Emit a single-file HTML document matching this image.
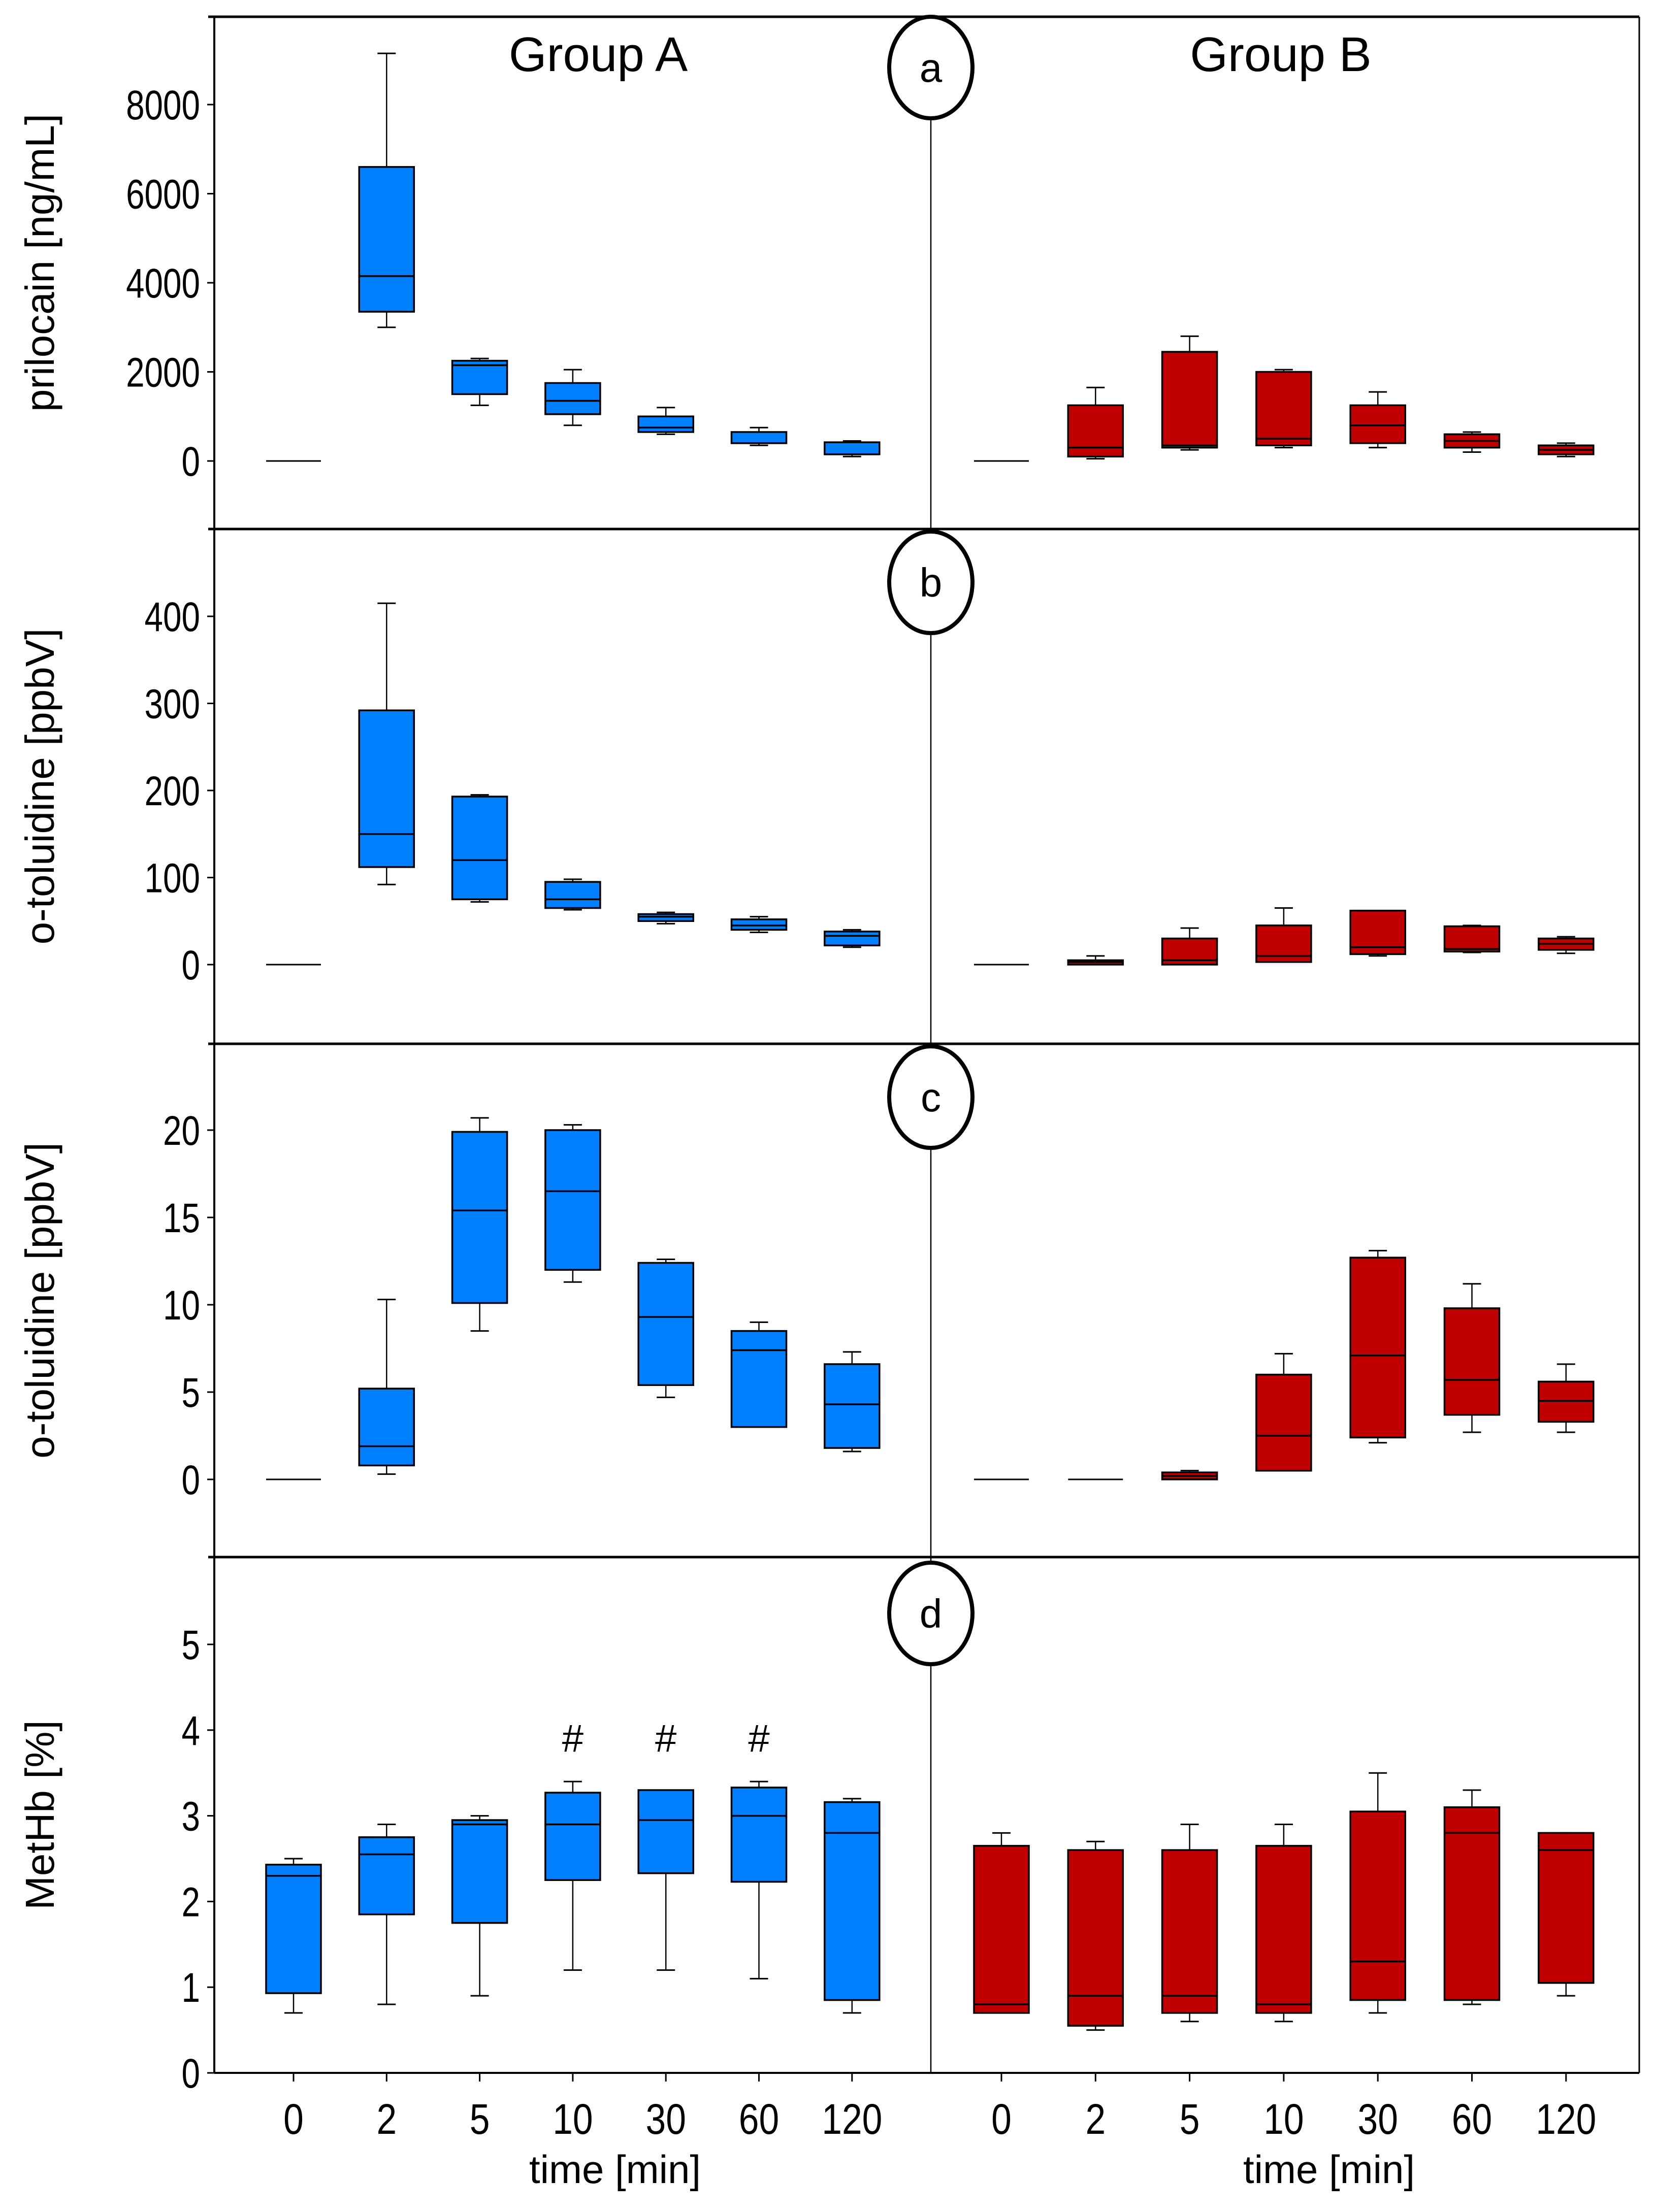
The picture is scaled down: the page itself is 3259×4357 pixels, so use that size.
<!DOCTYPE html>
<html><head><meta charset="utf-8"><style>
html,body{margin:0;padding:0;background:#fff;}
svg{display:block;font-family:"Liberation Sans",sans-serif;}
</style></head><body>
<svg id="chart" width="3259" height="4357" viewBox="0 0 3259 4357" xmlns="http://www.w3.org/2000/svg"></svg>
<script>
const categories = ["0","2","5","10","30","60","120"];
// each box: [whiskerLow, q1, median, q3, whiskerHigh]
const aGroupA = [[0,0,0,0,0],[3000,3350,4150,6600,9150],[1250,1500,2150,2250,2300],[800,1050,1350,1750,2050],[600,650,750,1000,1200],[350,400,400,650,750],[100,150,150,420,450]];
const aGroupB = [[0,0,0,0,0],[50,100,300,1250,1650],[250,300,350,2450,2800],[300,350,500,2000,2050],[300,400,800,1250,1550],[200,300,450,600,650],[100,150,250,350,400]];
const bGroupA = [[0,0,0,0,0],[92,112,150,292,415],[72,75,120,193,195],[63,65,75,95,98],[47,50,55,58,60],[37,40,45,52,55],[20,22,33,38,40]];
const bGroupB = [[0,0,0,0,0],[0,0,3,5,10],[0,0,5,30,42],[3,3,10,45,65],[10,12,20,62,62],[14,15,18,44,45],[13,17,24,30,32]];
const cGroupA = [[0,0,0,0,0],[0.3,0.8,1.9,5.2,10.3],[8.5,10.1,15.4,19.9,20.7],[11.3,12,16.5,20,20.3],[4.7,5.4,9.3,12.4,12.6],[3,3,7.4,8.5,9],[1.6,1.8,4.3,6.6,7.3]];
const cGroupB = [[0,0,0,0,0],[0,0,0,0,0],[0,0,0.2,0.4,0.5],[0.5,0.5,2.5,6,7.2],[2.1,2.4,7.1,12.7,13.1],[2.7,3.7,5.7,9.8,11.2],[2.7,3.3,4.5,5.6,6.6]];
const dGroupA = [[0.7,0.93,2.3,2.43,2.5],[0.8,1.85,2.55,2.75,2.9],[0.9,1.75,2.9,2.95,3.0],[1.2,2.25,2.9,3.27,3.4],[1.2,2.33,2.95,3.3,3.3],[1.1,2.23,3.0,3.33,3.4],[0.7,0.85,2.8,3.16,3.2]];
const dGroupB = [[0.7,0.7,0.8,2.65,2.8],[0.5,0.55,0.9,2.6,2.7],[0.6,0.7,0.9,2.6,2.9],[0.6,0.7,0.8,2.65,2.9],[0.7,0.85,1.3,3.05,3.5],[0.8,0.85,2.8,3.1,3.3],[0.9,1.05,2.6,2.8,2.8]];
const aTicks = [0,2000,4000,6000,8000];
const bTicks = [0,100,200,300,400];
const cTicks = [0,5,10,15,20];
const dTicks = [0,1,2,3,4,5];
const dSignificant = ["10","30","60"];

const svg = document.getElementById('chart');
const NS = "http://www.w3.org/2000/svg";
function mk(tag, attrs, parent){ const e=document.createElementNS(NS,tag); for(const k in attrs) e.setAttribute(k,attrs[k]); (parent||svg).appendChild(e); return e; }

const L=422, R=3228, MID=1833;
const xA0=578, stepA=183.3, xB0=1972, stepB=185.3, BW=108;
function xA(i){return xA0+i*stepA;}
function xB(i){return xB0+i*stepB;}

const panels = [
 {id:'a', top:33, bottom:1042, y0:908, per:175.5/2000, ticks:aTicks, A:aGroupA, B:aGroupB, title:'prilocain [ng/mL]', cy:133},
 {id:'b', top:1042, bottom:2056, y0:1900, per:171.5/100, ticks:bTicks, A:bGroupA, B:bGroupB, title:'o-toluidine [ppbV]', cy:1147},
 {id:'c', top:2056, bottom:3067, y0:2914, per:172/5, ticks:cTicks, A:cGroupA, B:cGroupB, title:'o-toluidine [ppbV]', cy:2161},
 {id:'d', top:3067, bottom:4083, y0:4083, per:168.8, ticks:dTicks, A:dGroupA, B:dGroupB, title:'MetHb [%]', cy:3178}
];

function drawBox(g, x, v, ys, color, name){
  const [lo,q1,md,q3,hi]=v.map(ys);
  const bg=mk('g',{},g);
  
  
  if(Math.abs(q3-q1)<1 && Math.abs(hi-lo)<1){
    mk('line',{x1:x-BW/2,x2:x+BW/2,y1:md,y2:md,stroke:'#000','stroke-width':3},bg); return;
  }
  mk('line',{x1:x,x2:x,y1:hi,y2:q3,stroke:'#000','stroke-width':2.5},bg);
  mk('line',{x1:x,x2:x,y1:q1,y2:lo,stroke:'#000','stroke-width':2.5},bg);
  mk('line',{x1:x-18,x2:x+18,y1:hi,y2:hi,stroke:'#000','stroke-width':3},bg);
  mk('line',{x1:x-18,x2:x+18,y1:lo,y2:lo,stroke:'#000','stroke-width':3},bg);
  mk('rect',{x:x-BW/2,y:q3,width:BW,height:Math.max(q1-q3,2),fill:color,stroke:'#000','stroke-width':3.5},bg);
  mk('line',{x1:x-BW/2,x2:x+BW/2,y1:md,y2:md,stroke:'#000','stroke-width':3.5},bg);
}

panels.forEach(p=>{
  const g=mk('g',{});
  
  
  const ys=v=>p.y0 - v*p.per;
  mk('line',{x1:410,x2:R,y1:p.top,y2:p.top,stroke:'#000','stroke-width':5},g);
  mk('line',{x1:L,x2:L,y1:p.top,y2:p.bottom,stroke:'#000','stroke-width':4},g);
  mk('line',{x1:R,x2:R,y1:p.top,y2:p.bottom,stroke:'#000','stroke-width':3},g);
  mk('line',{x1:MID,x2:MID,y1:p.top,y2:p.bottom,stroke:'#000','stroke-width':2.5},g);
  p.ticks.forEach(t=>{
    const y=ys(t);
    mk('line',{x1:L-14,x2:L,y1:y,y2:y,stroke:'#000','stroke-width':3},g);
    const tx=mk('text',{x:0,y:0,'text-anchor':'end','font-size':82,transform:`translate(394 ${y+29}) scale(0.8 1)`},g);
    
    
    tx.textContent=t;
  });
  const yc=(p.top+p.bottom)/2 + (p.id==='a'?-20:0);
  const tt=mk('text',{x:0,y:0,'text-anchor':'middle','font-size':80,transform:`translate(106 ${yc}) rotate(-90)`},g);
  
  
  tt.textContent=p.title;
  p.A.forEach((v,i)=>drawBox(g,xA(i),v,ys,'#0080ff','box-a-'+categories[i]));
  p.B.forEach((v,i)=>drawBox(g,xB(i),v,ys,'#c00000','box-b-'+categories[i]));
  mk('ellipse',{cx:MID,cy:p.cy,rx:82,ry:100,fill:'#fff',stroke:'#000','stroke-width':8},g);
  const cl=mk('text',{x:MID,y:p.cy+28,'text-anchor':'middle','font-size':80},g);
  
  
  cl.textContent=p.id;
  if(p.id==='d'){
    dSignificant.forEach(c=>{
      const i=categories.indexOf(c);
      const h=mk('text',{x:xA(i),y:ys(3.75),'text-anchor':'middle','font-size':76},g);
      
      
      h.textContent='#';
    });
  }
});
mk('line',{x1:L,x2:R,y1:4083,y2:4083,stroke:'#000','stroke-width':4});
categories.forEach((c,i)=>{
  [xA(i),xB(i)].forEach(x=>{
    mk('line',{x1:x,x2:x,y1:4083,y2:4100,stroke:'#000','stroke-width':3});
    const t=mk('text',{x:0,y:0,'text-anchor':'middle','font-size':84,transform:`translate(${x} 4203) scale(0.85 1)`});
    
    
    t.textContent=c;
  });
});
[[1211,'x-axis-title-a'],[2617,'x-axis-title-b']].forEach(([x,n])=>{
  const t=mk('text',{x:x,y:4300,'text-anchor':'middle','font-size':78});
  
  
  t.textContent='time [min]';
});
[[1178,'Group A','group-a-title'],[2522,'Group B','group-b-title']].forEach(([x,s,n])=>{
  const t=mk('text',{x:x,y:140,'text-anchor':'middle','font-size':96});
  
  
  t.textContent=s;
});
</script>
</body></html>
